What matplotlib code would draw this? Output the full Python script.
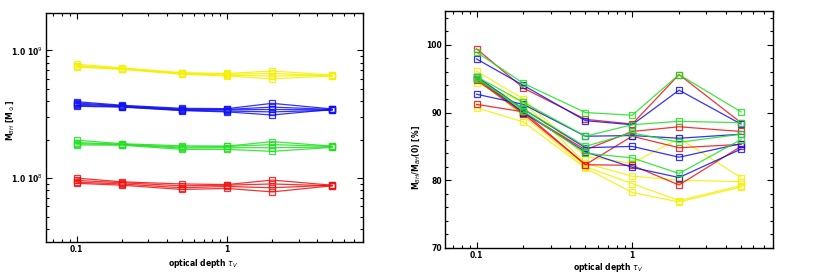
import numpy as np
import matplotlib
matplotlib.use("Agg")
import matplotlib.pyplot as plt
from matplotlib.ticker import FixedLocator, NullFormatter, LogLocator, MultipleLocator

# optical depth values
tau = [0.1, 0.2, 0.5, 1, 2, 5]

# left panel: black hole mass (Msun)
yellow_m = [[7.8e8, 7.3e8, 6.7e8, 6.6e8, 6.9e8, 6.4e8],
            [7.6e8, 7.2e8, 6.6e8, 6.5e8, 6.6e8, 6.3e8],
            [7.5e8, 7.2e8, 6.6e8, 6.4e8, 6.3e8, 6.4e8],
            [7.4e8, 7.1e8, 6.5e8, 6.3e8, 6.0e8, 6.3e8]]
blue_m = [[3.97e8, 3.72e8, 3.52e8, 3.50e8, 3.85e8, 3.48e8],
          [3.88e8, 3.68e8, 3.47e8, 3.45e8, 3.60e8, 3.45e8],
          [3.80e8, 3.65e8, 3.43e8, 3.42e8, 3.45e8, 3.42e8],
          [3.72e8, 3.62e8, 3.40e8, 3.35e8, 3.30e8, 3.40e8],
          [3.65e8, 3.60e8, 3.38e8, 3.30e8, 3.12e8, 3.45e8]]
green_m = [[1.98e8, 1.86e8, 1.79e8, 1.78e8, 1.93e8, 1.78e8],
           [1.90e8, 1.84e8, 1.75e8, 1.77e8, 1.83e8, 1.77e8],
           [1.86e8, 1.83e8, 1.72e8, 1.73e8, 1.73e8, 1.75e8],
           [1.82e8, 1.81e8, 1.68e8, 1.68e8, 1.62e8, 1.74e8]]
red_m = [[1.00e8, 0.935e8, 0.90e8, 0.89e8, 0.965e8, 0.88e8],
         [0.96e8, 0.92e8, 0.87e8, 0.88e8, 0.90e8, 0.87e8],
         [0.93e8, 0.90e8, 0.84e8, 0.86e8, 0.84e8, 0.88e8],
         [0.91e8, 0.88e8, 0.815e8, 0.83e8, 0.78e8, 0.87e8]]

# right panel: ratio to tau=0 mass (%)
yellow_r = [[96.1, 92.0, 83.5, 82.5, 86.2, 80.4],
            [94.4, 91.5, 82.5, 80.6, 80.0, 79.8],
            [95.0, 89.5, 82.0, 79.5, 77.0, 79.2],
            [90.7, 88.6, 81.8, 78.2, 76.8, 79.0]]
red_r = [[99.4, 93.6, 89.0, 88.3, 95.6, 88.5],
         [95.0, 90.0, 84.5, 87.2, 87.9, 87.2],
         [91.2, 90.1, 82.3, 86.5, 84.8, 85.3],
         [94.8, 89.8, 82.3, 82.2, 79.3, 85.0]]
green_r = [[98.9, 94.3, 90.0, 89.6, 95.6, 90.1],
           [95.3, 91.5, 86.5, 88.2, 88.7, 88.5],
           [95.0, 90.5, 85.0, 87.0, 85.6, 86.8],
           [95.2, 90.2, 84.0, 83.3, 81.0, 86.0]]
blue_r = [[97.9, 94.0, 88.8, 88.2, 93.3, 88.3],
          [92.7, 91.2, 86.5, 86.6, 86.2, 86.8],
          [95.3, 90.5, 84.8, 85.0, 83.4, 85.4],
          [95.2, 90.0, 84.2, 81.9, 80.4, 84.6]]

cols = {"y": "#f5f000", "b": "#1010f0", "g": "#20e020", "r": "#f01010"}

fig = plt.figure(figsize=(8.3, 2.73), dpi=100)
ax1 = fig.add_axes([0.0554, 0.1136, 0.3816, 0.8384])
ax2 = fig.add_axes([0.536, 0.0916, 0.395, 0.8684])

def draw(ax, groups):
    for c, lines in groups:
        for v in lines:
            ax.plot(tau, v, "-s", color=cols[c], lw=0.9, ms=3.8,
                    mfc="none", mec=cols[c], mew=0.9, alpha=0.85)

draw(ax1, [("y", yellow_m), ("b", blue_m), ("g", green_m), ("r", red_m)])
draw(ax2, [("y", yellow_r), ("r", red_r), ("b", blue_r), ("g", green_r)])

for ax in (ax1, ax2):
    ax.set_xscale("log")
    ax.set_xlim(0.0625, 8)
    ax.xaxis.set_major_locator(FixedLocator([0.1, 1]))
    ax.set_xticklabels(["0.1", "1"])
    ax.xaxis.set_minor_locator(LogLocator(base=10, subs=np.arange(2, 10)))
    ax.xaxis.set_minor_formatter(NullFormatter())
    ax.tick_params(which="both", direction="in", top=True, right=True,
                   labelsize=5.5, width=0.8, pad=2)
    ax.tick_params(which="major", length=4)
    ax.tick_params(which="minor", length=2)
    for lab in ax.get_xticklabels() + ax.get_yticklabels():
        lab.set_fontweight("bold")
    for s in ax.spines.values():
        s.set_linewidth(1.0)
    ax.set_xlabel(r"optical depth $\tau_V$", fontsize=5.5, fontweight="bold")

ax1.xaxis.set_label_coords(0.495, -0.065)
ax2.xaxis.set_label_coords(0.497, -0.055)

ax1.set_yscale("log")
ax1.set_ylim(3.16e7, 1.96e9)
ax1.yaxis.set_major_locator(FixedLocator([1e8, 1e9]))
ax1.set_yticklabels([r"1.0 10$^{8}$", r"1.0 10$^{9}$"], fontsize=5.5, fontweight="bold")
ax1.yaxis.set_minor_locator(LogLocator(base=10, subs=np.arange(2, 10)))
ax1.yaxis.set_minor_formatter(NullFormatter())
ax1.set_ylabel(r"M$_{BH}$ [M$_\odot$]", fontsize=5.5, fontweight="bold")
ax1.yaxis.set_label_coords(-0.095, 0.53)

ax2.set_ylim(70, 105)
ax2.yaxis.set_major_locator(MultipleLocator(10))
ax2.yaxis.set_minor_locator(MultipleLocator(2))
ax2.set_yticklabels([str(int(v)) for v in ax2.get_yticks()], fontsize=5.5, fontweight="bold")
ax2.set_ylabel(r"M$_{BH}$/M$_{BH}$(0) [%]", fontsize=5.5, fontweight="bold")
ax2.yaxis.set_label_coords(-0.07, 0.38)

fig.savefig("out.png", dpi=100)
